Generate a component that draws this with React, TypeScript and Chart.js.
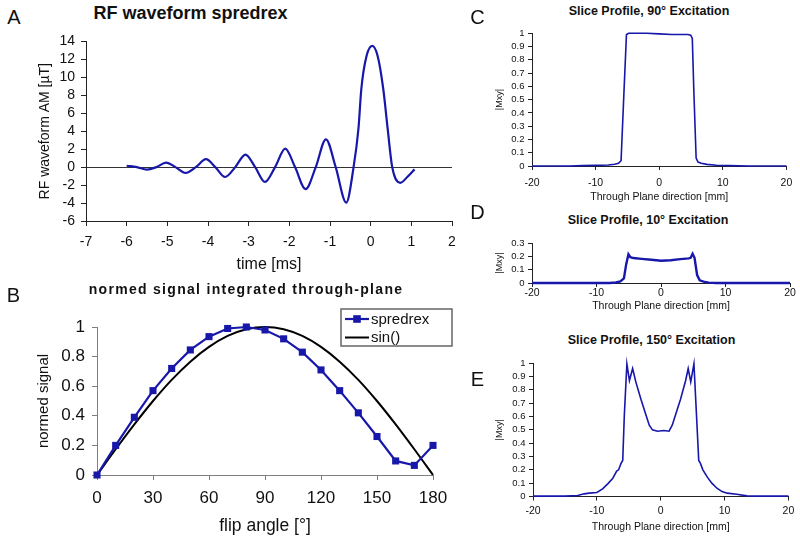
import React, { useEffect, useRef } from 'react';
import { Chart, registerables } from 'chart.js';

Chart.register(...registerables);

const FONT = '"Liberation Sans", Arial, Helvetica, sans-serif';
Chart.defaults.font.family = FONT;

// ---------- Panel A: RF waveform ----------
const rfTimeMs = [-6.0, -5.75, -5.5, -5.27, -5.03, -4.8, -4.55, -4.3, -4.05, -3.82, -3.58, -3.33, -3.08, -2.84, -2.6, -2.35, -2.1, -1.86, -1.6, -1.35, -1.1, -0.86, -0.6, -0.42, -0.3, -0.23, -0.1, 0.04, 0.17, 0.31, 0.42, 0.53, 0.73, 0.9, 1.08];
const rfAmplitudeUT = [0.15, 0.0, -0.28, 0.0, 0.5, 0.0, -0.65, 0.0, 0.88, 0.0, -1.1, 0.0, 1.4, 0.0, -1.65, 0.0, 2.05, 0.0, -2.45, 0.0, 3.1, 0.0, -3.95, 0.0, 4.3, 8.7, 12.4, 13.5, 12.4, 8.7, 4.2, 0.0, -1.75, -1.1, -0.25];
const rfTimeTicks = [-7, -6, -5, -4, -3, -2, -1, 0, 1, 2];
const rfAmpTicks = [-6, -4, -2, 0, 2, 4, 6, 8, 10, 12, 14];

// ---------- Panel B: normed signal ----------
const flipAngles = [0, 10, 20, 30, 40, 50, 60, 70, 80, 90, 100, 110, 120, 130, 140, 150, 160, 170, 180];
const spredrexSignal = [0, 0.2, 0.39, 0.57, 0.72, 0.845, 0.935, 0.99, 1.0, 0.98, 0.92, 0.83, 0.71, 0.57, 0.42, 0.26, 0.095, 0.065, 0.2];
const sinSignal = [0, 0.174, 0.342, 0.5, 0.643, 0.766, 0.866, 0.94, 0.985, 1.0, 0.985, 0.94, 0.866, 0.766, 0.643, 0.5, 0.342, 0.174, 0];
const flipTicks = [0, 30, 60, 90, 120, 150, 180];
const signalTicks = [0, 0.2, 0.4, 0.6, 0.8, 1];

// ---------- Panels C, D, E: slice profiles ----------
const profileTicks = [-20, -10, 0, 10, 20];
const mxyTicksFull = [0, 0.1, 0.2, 0.3, 0.4, 0.5, 0.6, 0.7, 0.8, 0.9, 1];
const mxyTicksLow = [0, 0.1, 0.2, 0.3];

const pos90 = [-20, -14, -12, -10, -8, -7, -6.4, -6.0, -5.55, -5.15, -4.8, -2, 0, 2, 4.5, 4.95, 5.2, 5.45, 5.8, 6.1, 6.6, 7.5, 9, 11, 14, 20];
const mxy90 = [0, 0, 0.003, 0.005, 0.008, 0.013, 0.02, 0.04, 0.55, 0.99, 1.0, 1.0, 0.995, 0.99, 0.99, 0.985, 0.96, 0.55, 0.06, 0.03, 0.02, 0.012, 0.006, 0.003, 0, 0];

const pos10 = [-20, -8, -7, -6.3, -5.75, -5.4, -5.05, -4.75, -4.3, -3, -1.5, 0, 1.5, 3, 4.3, 4.6, 4.9, 5.2, 5.6, 6.0, 6.6, 7.4, 8.5, 20];
const mxy10 = [0, 0, 0.004, 0.012, 0.035, 0.14, 0.217, 0.195, 0.188, 0.182, 0.175, 0.168, 0.172, 0.18, 0.186, 0.19, 0.22, 0.19, 0.06, 0.02, 0.01, 0.003, 0, 0];

const pos150 = [-20, -15, -13, -12, -11.2, -10, -9.1, -8.3, -7.5, -6.9, -6.6, -6.2, -5.95, -5.7, -5.3, -4.9, -4.4, -3.9, -3.1, -2.3, -1.8, -1.3, -0.5, 0.5, 1.3, 1.8, 2.3, 3.1, 3.9, 4.3, 4.7, 5.2, 5.6, 5.95, 6.2, 6.6, 7.3, 8.0, 8.8, 9.6, 10.4, 11.9, 13.5, 15, 20];
const mxy150 = [0.003, 0.003, 0.008, 0.02, 0.025, 0.03, 0.057, 0.095, 0.137, 0.19, 0.2, 0.25, 0.27, 0.61, 0.995, 0.87, 0.96, 0.86, 0.73, 0.61, 0.535, 0.5, 0.49, 0.495, 0.49, 0.535, 0.61, 0.73, 0.87, 0.96, 0.86, 0.995, 0.61, 0.27, 0.25, 0.2, 0.145, 0.1, 0.062, 0.037, 0.025, 0.017, 0.005, 0.003, 0.003];

const BLUE = '#1717aa';

type Geo = { L: number; T: number; R: number; B: number; yW: number; xH: number; pt: number; pr: number };
type AxisText = {
  ticks: number[];
  tickSize: number;
  tl: number;
  color: string;
  labelColor: string;
  title: string;
  titleSize: number;
  tickPos: number; // x-axis: label centre y ; y-axis: label right edge x
  titlePos: number; // x-axis: title centre y ; y-axis: title centre x
  gridColor?: any;
};

const plainLabel = (v: any) => String(Math.round(Number(v) * 1000) / 1000);

function canvasBox(g: Geo) {
  const left = g.L - g.yW;
  const top = g.T - g.pt;
  return { left, top, width: g.R + g.pr - left, height: g.B + g.xH - top };
}

function xScale(g: Geo, a: AxisText) {
  const lhT = a.tickSize * 1.2;
  const lhTitle = a.titleSize * 1.2;
  return {
    type: 'linear',
    position: 'bottom',
    min: a.ticks[0],
    max: a.ticks[a.ticks.length - 1],
    afterBuildTicks: (s: any) => { s.ticks = a.ticks.map((v) => ({ value: v })); },
    afterFit: (s: any) => { s.height = g.xH; },
    border: { display: true, color: a.color, width: 1 },
    grid: { display: true, drawOnChartArea: false, drawTicks: true, tickLength: a.tl, color: a.color, tickColor: a.color, tickWidth: 1 },
    ticks: {
      autoSkip: false, maxRotation: 0, minRotation: 0, color: a.labelColor,
      font: { family: FONT, size: a.tickSize, lineHeight: 1.2 },
      padding: a.tickPos - g.B - a.tl - lhT / 2,
      callback: plainLabel,
    },
    title: {
      display: true, text: a.title, color: a.labelColor,
      font: { family: FONT, size: a.titleSize, lineHeight: 1.2 },
      padding: { top: 0, bottom: g.B + g.xH - lhTitle / 2 - a.titlePos },
    },
  };
}

function yScale(g: Geo, a: AxisText) {
  const lhTitle = a.titleSize * 1.2;
  const left = g.L - g.yW;
  return {
    type: 'linear',
    position: 'left',
    min: a.ticks[0],
    max: a.ticks[a.ticks.length - 1],
    afterBuildTicks: (s: any) => { s.ticks = a.ticks.map((v) => ({ value: v })); },
    afterFit: (s: any) => { s.width = g.yW; },
    border: { display: true, color: a.color, width: 1 },
    grid: {
      display: true,
      drawOnChartArea: !!a.gridColor,
      drawTicks: true,
      tickLength: a.tl,
      color: a.gridColor || a.color,
      tickColor: a.color,
      tickWidth: 1,
    },
    ticks: {
      autoSkip: false, color: a.labelColor,
      font: { family: FONT, size: a.tickSize, lineHeight: 1.2 },
      padding: g.L - a.tl - a.tickPos,
      callback: plainLabel,
    },
    title: {
      display: true, text: a.title, color: a.labelColor,
      font: { family: FONT, size: a.titleSize, lineHeight: 1.2 },
      padding: { top: a.titlePos - left - lhTitle / 2, bottom: 0 },
    },
  };
}

function baseOptions(g: Geo, x: any, y: any) {
  return {
    responsive: false,
    animation: false,
    devicePixelRatio: 1,
    layout: { autoPadding: false, padding: { left: 0, top: g.pt, right: g.pr, bottom: 0 } },
    plugins: { legend: { display: false }, title: { display: false }, tooltip: { enabled: false } },
    scales: { x, y },
  };
}

const xy = (xs: number[], ys: number[]) => xs.map((v, i) => ({ x: v, y: ys[i] }));

const boxLegend = {
  id: 'boxLegend',
  afterDraw(chart: any) {
    const { ctx, chartArea } = chart;
    const x0 = chartArea.right - 92;
    const y0 = chartArea.top - 18;
    const w = 111;
    const h = 37;
    ctx.save();
    ctx.fillStyle = '#fff';
    ctx.fillRect(x0, y0, w, h);
    ctx.strokeStyle = '#666';
    ctx.lineWidth = 1.5;
    ctx.strokeRect(x0, y0, w, h);
    const rows = [y0 + 10, y0 + 28.5];
    chart.data.datasets.forEach((ds: any, i: number) => {
      const y = rows[i];
      ctx.strokeStyle = ds.borderColor;
      ctx.lineWidth = ds.borderWidth;
      ctx.beginPath();
      ctx.moveTo(x0 + 4, y);
      ctx.lineTo(x0 + 28, y);
      ctx.stroke();
      if (ds.pointRadius > 0) {
        ctx.fillStyle = ds.pointBackgroundColor;
        ctx.fillRect(x0 + 16 - 3.8, y - 3.8, 7.6, 7.6);
      }
      ctx.fillStyle = '#111';
      ctx.font = `15px ${FONT}`;
      ctx.textBaseline = 'middle';
      ctx.textAlign = 'left';
      ctx.fillText(ds.label, x0 + 30, y + 0.5);
    });
    ctx.restore();
  },
};

// ---------- geometry ----------
const geoA: Geo = { L: 86, T: 39, R: 452, B: 221, yW: 60, xH: 56, pt: 12, pr: 18 };
const geoB: Geo = { L: 97, T: 327, R: 433, B: 475, yW: 80, xH: 64, pt: 30, pr: 30 };
const geoC: Geo = { L: 532, T: 32, R: 790, B: 166, yW: 45, xH: 40, pt: 8, pr: 9 };
const geoD: Geo = { L: 532, T: 242, R: 790, B: 283, yW: 45, xH: 32, pt: 8, pr: 9 };
const geoE: Geo = { L: 533, T: 362.5, R: 791, B: 496.5, yW: 46, xH: 39.5, pt: 8.5, pr: 8 };

function configA() {
  const x = xScale(geoA, { ticks: rfTimeTicks, tickSize: 14, tl: 5, color: '#222', labelColor: '#111', title: 'time [ms]', titleSize: 16, tickPos: 242, titlePos: 265 });
  const y = yScale(geoA, {
    ticks: rfAmpTicks, tickSize: 14, tl: 5, color: '#222', labelColor: '#111', title: 'RF waveform AM [µT]', titleSize: 14, tickPos: 75, titlePos: 45.5,
    gridColor: (ctx: any) => (ctx.tick && ctx.tick.value === 0 ? '#333' : 'rgba(0,0,0,0)'),
  });
  return {
    type: 'line',
    data: {
      datasets: [{
        label: 'RF waveform spredrex', data: xy(rfTimeMs, rfAmplitudeUT), borderColor: BLUE, borderWidth: 2.2,
        pointRadius: 0, cubicInterpolationMode: 'monotone', fill: false,
      }],
    },
    options: baseOptions(geoA, x, y),
  };
}

function configB() {
  const x = xScale(geoB, { ticks: flipTicks, tickSize: 17, tl: 5, color: '#808080', labelColor: '#111', title: 'flip angle [°]', titleSize: 17.5, tickPos: 498, titlePos: 526 });
  const y = yScale(geoB, { ticks: signalTicks, tickSize: 17, tl: 5, color: '#808080', labelColor: '#111', title: 'normed signal', titleSize: 15, tickPos: 85, titlePos: 43.5 });
  return {
    type: 'line',
    data: {
      datasets: [
        {
          label: 'spredrex', data: xy(flipAngles, spredrexSignal), borderColor: BLUE, borderWidth: 2.2,
          pointStyle: 'rect', pointRadius: 5, pointBackgroundColor: BLUE, pointBorderColor: BLUE, pointBorderWidth: 0,
          tension: 0, clip: false, fill: false,
        },
        {
          label: 'sin()', data: xy(flipAngles, sinSignal), borderColor: '#000', borderWidth: 2,
          pointRadius: 0, cubicInterpolationMode: 'monotone', clip: false, fill: false,
        },
      ],
    },
    options: baseOptions(geoB, x, y),
    plugins: [boxLegend],
  };
}

function configProfile(g: Geo, pos: number[], mxy: number[], yTicks: number[], tickY: number, titleY: number, width: number, label: string) {
  const x = xScale(g, { ticks: profileTicks, tickSize: 10.5, tl: 4, color: '#222', labelColor: '#111', title: 'Through Plane direction [mm]', titleSize: 10.5, tickPos: tickY, titlePos: titleY });
  const y = yScale(g, { ticks: yTicks, tickSize: 9.5, tl: 4, color: '#222', labelColor: '#111', title: '|Mxy|', titleSize: 9, tickPos: g.L - 7.5, titlePos: 500 });
  return {
    type: 'line',
    data: {
      datasets: [{ label, data: xy(pos, mxy), borderColor: BLUE, borderWidth: width, pointRadius: 0, tension: 0, fill: false, clip: false }],
    },
    options: baseOptions(g, x, y),
  };
}

function ChartCanvas({ geo, make }: { geo: Geo; make: () => any }) {
  const ref = useRef<HTMLCanvasElement>(null);
  useEffect(() => {
    const chart = new Chart(ref.current as HTMLCanvasElement, make());
    return () => chart.destroy();
  }, []);
  const b = canvasBox(geo);
  return (
    <canvas
      ref={ref}
      width={b.width}
      height={b.height}
      style={{ position: 'absolute', left: b.left, top: b.top, width: b.width, height: b.height }}
    />
  );
}

type Txt = { t: string; x: number; y: number; size: number; bold?: boolean; ls?: number };
const texts: Txt[] = [
  { t: 'A', x: 14, y: 16.5, size: 20 },
  { t: 'B', x: 13.5, y: 295, size: 20 },
  { t: 'C', x: 477.5, y: 17, size: 20 },
  { t: 'D', x: 477.5, y: 212, size: 20 },
  { t: 'E', x: 477.5, y: 379, size: 20 },
  { t: 'RF waveform spredrex', x: 190.5, y: 12.5, size: 18, bold: true },
  { t: 'normed signal integrated through-plane', x: 246, y: 289, size: 14, bold: true, ls: 1.3 },
  { t: 'Slice Profile, 90° Excitation', x: 649, y: 11, size: 12.5, bold: true },
  { t: 'Slice Profile, 10° Excitation', x: 648, y: 220, size: 12.5, bold: true },
  { t: 'Slice Profile, 150° Excitation', x: 651.5, y: 340, size: 12.5, bold: true },
];

export default function App() {
  return (
    <div style={{ position: 'fixed', left: 0, top: 0, width: 800, height: 541, background: '#fff', overflow: 'hidden', fontFamily: FONT }}>
      <ChartCanvas geo={geoA} make={configA} />
      <ChartCanvas geo={geoB} make={configB} />
      <ChartCanvas geo={geoC} make={() => configProfile(geoC, pos90, mxy90, mxyTicksFull, 183, 197, 1.6, 'Slice Profile, 90° Excitation')} />
      <ChartCanvas geo={geoD} make={() => configProfile(geoD, pos10, mxy10, mxyTicksLow, 293.5, 306, 2.4, 'Slice Profile, 10° Excitation')} />
      <ChartCanvas geo={geoE} make={() => configProfile(geoE, pos150, mxy150, mxyTicksFull, 511.5, 527, 1.6, 'Slice Profile, 150° Excitation')} />
      {texts.map((d) => (
        <div
          key={d.t}
          style={{
            position: 'absolute', left: d.x, top: d.y, transform: 'translate(-50%, -50%)',
            fontSize: d.size, fontWeight: d.bold ? 'bold' : 'normal', lineHeight: 1, whiteSpace: 'nowrap',
            color: '#111', letterSpacing: d.ls ? d.ls : 0,
          }}
        >
          {d.t}
        </div>
      ))}
    </div>
  );
}
